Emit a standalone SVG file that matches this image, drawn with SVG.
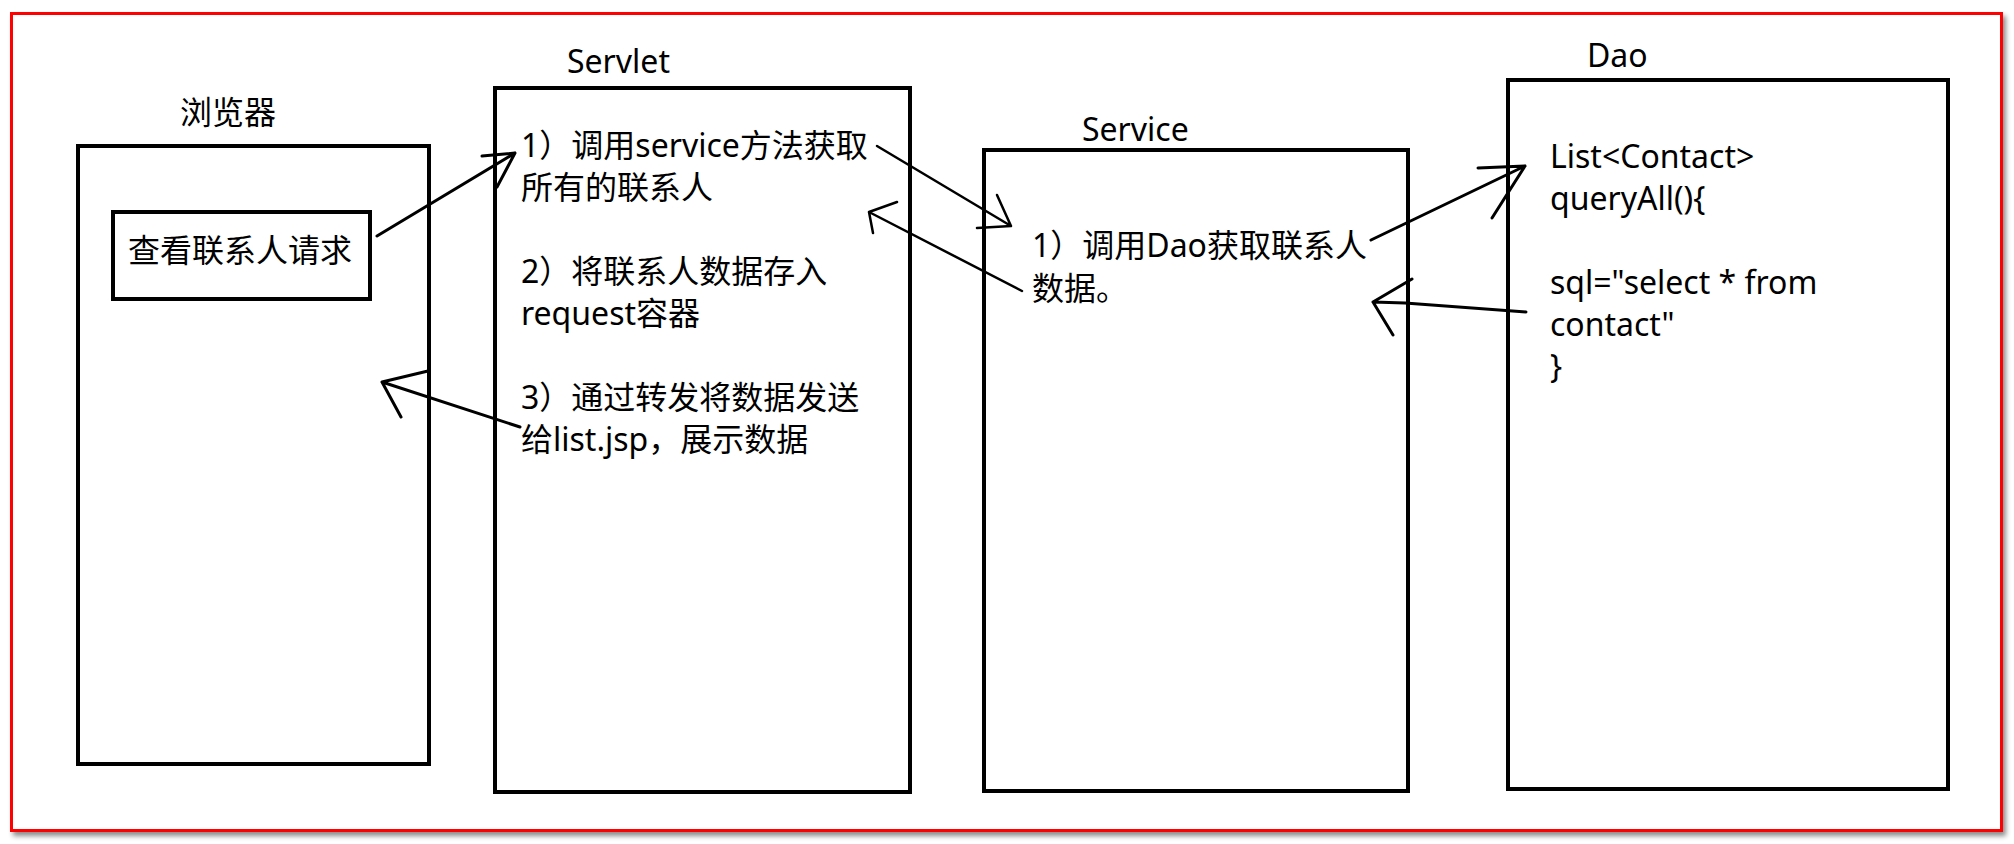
<svg xmlns="http://www.w3.org/2000/svg" width="2014" height="844" viewBox="0 0 2014 844">
  <defs>
    <filter id="frameShadow" x="-2%" y="-2%" width="104%" height="106%">
      <feDropShadow dx="3" dy="4" stdDeviation="2.5" flood-color="#000" flood-opacity="0.45"/>
    </filter>
  </defs>
  <style>
    .frame { fill: #fff; stroke: #ff0000; stroke-width: 3; }
    .box { fill: none; stroke: #000; stroke-width: 4; }
    .txt { font-family: "Noto Sans", "Noto Sans CJK SC", sans-serif; font-size: 32px; fill: #000; }
    .wire { fill: none; stroke: #000; stroke-width: 3; stroke-linecap: round; stroke-linejoin: round; }
    .thin { stroke-width: 2.5; }
  </style>

  <rect width="2014" height="844" fill="#fff"/>
  <rect class="frame" x="11.5" y="13.5" width="1990" height="817" filter="url(#frameShadow)"/>

  <!-- Browser column -->
  <g id="browser">
    <text class="txt" x="180" y="124">浏览器</text>
    <rect class="box" x="78" y="146" width="351" height="618"/>
  </g>
  <g id="request">
    <rect class="box" x="113" y="212" width="257" height="87"/>
    <text class="txt" x="128" y="262">查看联系人请求</text>
  </g>

  <!-- Servlet column -->
  <g id="servlet">
    <text class="txt" x="567" y="73">Servlet</text>
    <rect class="box" x="495" y="88" width="415" height="704"/>
    <text class="txt" x="521" y="157">1）调用service方法获取</text>
    <text class="txt" x="521" y="199">所有的联系人</text>
    <text class="txt" x="521" y="283">2）将联系人数据存入</text>
    <text class="txt" x="521" y="325">request容器</text>
    <text class="txt" x="521" y="409">3）通过转发将数据发送</text>
    <text class="txt" x="521" y="451">给list.jsp，展示数据</text>
  </g>

  <!-- Service column -->
  <g id="service">
    <text class="txt" x="1082" y="141">Service</text>
    <rect class="box" x="984" y="150" width="424" height="641"/>
    <text class="txt" x="1032" y="257">1）调用Dao获取联系人</text>
    <text class="txt" x="1032" y="300">数据。</text>
  </g>

  <!-- Dao column -->
  <g id="dao">
    <text class="txt" x="1587" y="67">Dao</text>
    <rect class="box" x="1508" y="80" width="440" height="709"/>
    <text class="txt" x="1550" y="168">List&lt;Contact&gt;</text>
    <text class="txt" x="1550" y="210">queryAll(){</text>
    <text class="txt" x="1550" y="294">sql="select * from</text>
    <text class="txt" x="1550" y="336">contact"</text>
    <text class="txt" x="1550" y="378">}</text>
  </g>

  <!-- Hand-drawn arrows with open V heads -->
  <g id="connectors">
    <!-- request -> servlet -->
    <path class="wire" d="M377 236 L515 153 M482 156 L515 153 L497 187"/>
    <!-- servlet -> browser -->
    <path class="wire" d="M520 427 L382 382 M428 371 L382 382 L401 417"/>
    <!-- servlet -> service -->
    <path class="wire thin" d="M877 146 L1011 226 M997 195 L1011 226 L977 228"/>
    <!-- service -> servlet -->
    <path class="wire thin" d="M1022 291 L869 212 M897 202 L869 212 L873 233"/>
    <!-- service -> dao -->
    <path class="wire" d="M1371 240 L1525 166 M1478 168 L1525 166 L1492 218"/>
    <!-- dao -> service -->
    <path class="wire" d="M1526 312 L1405 303 L1373 302 M1412 279 L1373 302 L1393 335"/>
  </g>
</svg>
